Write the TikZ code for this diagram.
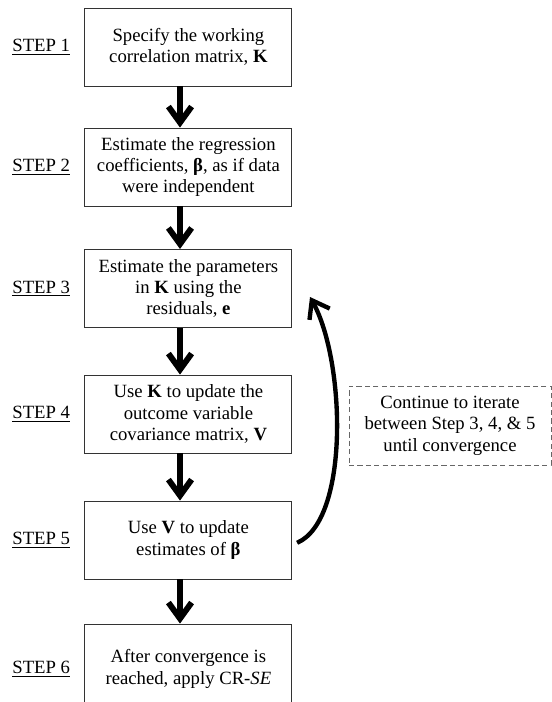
\documentclass[tikz,border=0pt]{standalone}
\usepackage{fontspec}
\setmainfont{Liberation Serif}
\usepackage{tikz}
\usetikzlibrary{arrows.meta,calc}

\begin{document}
\begin{tikzpicture}[
    stepbox/.style={draw=black!80, line width=0.6pt, align=center, minimum width=5.175cm, minimum height=1.95cm, inner sep=2pt, font=\fontsize{13.3}{15.2}\selectfont},
    steplabel/.style={font=\fontsize{13.3}{15.2}\selectfont},
    notebox/.style={draw=black!60, dashed, dash pattern=on 1.3mm off 0.8mm, line width=0.6pt, align=center, minimum width=5.05cm, minimum height=1.975cm, font=\fontsize{13.3}{15.2}\selectfont},
    flowarrow/.style={line width=4.2pt, -{Straight Barb[length=4mm, width=5.8mm]}},
    looparrow/.style={line width=3.1pt, -{Straight Barb[length=4mm, width=5.8mm]}}
]
\useasboundingbox (0,0) rectangle (13.8,-17.55);
\node[stepbox] (b1) at (4.71,-1.175) {Specify the working\\correlation matrix, \textbf{K}};
\node[stepbox] (b2) at (4.71,-4.175) {Estimate the regression\\coefficients, \textbf{β}, as if data\\were independent};
\node[stepbox] (b3) at (4.71,-7.21) {Estimate the parameters\\in \textbf{K} using the\\residuals, \textbf{e}};
\node[stepbox] (b4) at (4.71,-10.35) {Use \textbf{K} to update the\\outcome variable\\covariance matrix, \textbf{V}};
\node[stepbox] (b5) at (4.71,-13.5) {Use \textbf{V} to update\\estimates of \textbf{β}};
\node[stepbox, minimum height=2.25cm] (b6) at (4.71,-16.725) {After convergence is\\reached, apply CR-\textit{SE}};
\node[steplabel] (s1) at (1.03,-1.175) {\underline{STEP 1}};
\node[steplabel] (s2) at (1.03,-4.175) {\underline{STEP 2}};
\node[steplabel] (s3) at (1.03,-7.21) {\underline{STEP 3}};
\node[steplabel] (s4) at (1.03,-10.35) {\underline{STEP 4}};
\node[steplabel] (s5) at (1.03,-13.5) {\underline{STEP 5}};
\node[steplabel] (s6) at (1.03,-16.725) {\underline{STEP 6}};
\node[notebox] (note) at (11.25,-10.64) {Continue to iterate\\between Step 3, 4, \& 5\\until convergence};
\foreach \a/\b in {b1/b2,b2/b3,b3/b4,b4/b5,b5/b6}
  \draw[flowarrow] ([xshift=-2.1mm]\a.south) -- ([xshift=-2.1mm]\b.north);
\coordinate (loopend) at (7.75,-7.425);
\draw[looparrow] ([xshift=1.2mm,yshift=-0.7mm]b5.east) .. controls (8.75,-13.0) and (8.63,-9.0) .. (loopend);
\end{tikzpicture}
\end{document}
